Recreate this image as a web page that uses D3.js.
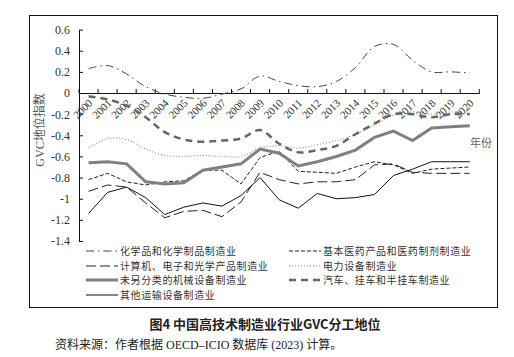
<!DOCTYPE html>
<html><head><meta charset="utf-8">
<script src="https://cdn.jsdelivr.net/npm/d3@7"></script>
<style>body{margin:0;background:#fff}svg{display:block}</style>
</head><body>
<svg id="c" width="514" height="357"></svg>
<script>
const years = ["2000","2001","2002","2003","2004","2005","2006","2007","2008","2009","2010","2011","2012","2013","2014","2015","2016","2017","2018","2019","2020"];
const chem      = [0.23,0.26,0.18,0.06,-0.01,-0.04,-0.05,-0.01,0.04,0.16,0.11,0.07,0.06,0.11,0.24,0.44,0.46,0.31,0.20,0.20,0.19];
const pharma    = [-0.82,-0.76,-0.84,-0.87,-0.84,-0.83,-0.73,-0.73,-0.86,-0.61,-0.55,-0.74,-0.75,-0.76,-0.70,-0.65,-0.68,-0.76,-0.72,-0.71,-0.70];
const computer  = [-0.93,-0.87,-0.89,-1.04,-1.18,-1.12,-1.11,-1.17,-1.03,-0.75,-0.82,-0.86,-0.84,-0.84,-0.82,-0.68,-0.67,-0.75,-0.76,-0.76,-0.76];
const power     = [-0.52,-0.43,-0.44,-0.53,-0.59,-0.60,-0.59,-0.60,-0.60,-0.52,-0.50,-0.52,-0.49,-0.45,-0.39,-0.30,-0.21,-0.18,-0.20,-0.18,-0.18];
const machinery = [-0.66,-0.65,-0.67,-0.84,-0.86,-0.85,-0.73,-0.70,-0.67,-0.53,-0.57,-0.69,-0.65,-0.60,-0.54,-0.42,-0.36,-0.45,-0.33,-0.32,-0.31];
const auto      = [-0.03,-0.06,-0.12,-0.23,-0.37,-0.44,-0.46,-0.45,-0.43,-0.35,-0.48,-0.56,-0.54,-0.50,-0.39,-0.29,-0.20,-0.20,-0.23,-0.20,-0.20];
const other     = [-1.14,-0.94,-0.89,-0.99,-1.15,-1.08,-1.04,-1.07,-0.97,-0.80,-1.01,-1.09,-0.95,-1.00,-0.99,-0.96,-0.78,-0.72,-0.65,-0.65,-0.65];
const yTicks = [0.6,0.4,0.2,0,-0.2,-0.4,-0.6,-0.8,-1,-1.2,-1.4];
const seriesNames = ["化学品和化学制品制造业","基本医药产品和医药制剂制造业","计算机、电子和光学产品制造业","电力设备制造业","未另分类的机械设备制造业","汽车、挂车和半挂车制造业","其他运输设备制造业"];
const title = "图4  中国高技术制造业行业GVC分工地位";
const source = "资料来源：作者根据 OECD–ICIO 数据库 (2023) 计算。";
const yTitle = "GVC地位指数";
const xTitle = "年份";

const svg = d3.select("#c");
svg.append("rect").attr("x",29.5).attr("y",15.5).attr("width",468).attr("height",292)
  .attr("fill","#fff").attr("stroke","#111").attr("stroke-width",1);

const x = d3.scaleBand().domain(years).range([79,479.3]).padding(0);
const y = d3.scaleLinear().domain([-1.4,0.6]).range([241,29.6]);
const bw = x.bandwidth();
const serif = "'Liberation Serif','Noto Sans CJK SC',serif";
const cjk = "'Noto Sans CJK SC',sans-serif";

// y axis
const ya = svg.append("g").attr("transform","translate(79,0)")
  .call(d3.axisLeft(y).tickValues(yTicks).tickFormat(v=>String(+v.toFixed(1))).tickSizeInner(-4).tickSizeOuter(0).tickPadding(9));
ya.selectAll("path,line").attr("stroke","#111");
ya.selectAll("text").attr("font-family",serif).attr("font-size",12).attr("fill","#333");

// x axis
const xa = svg.append("g").attr("transform",`translate(0,${y(0)})`)
  .call(d3.axisBottom(x).tickSize(0).tickSizeOuter(0));
xa.select("path").attr("stroke","#111");
xa.selectAll(".tick text")
  .attr("font-family",serif).attr("font-size",11).attr("fill","#333")
  .attr("text-anchor","end").attr("transform","translate(2,8) rotate(-45)").attr("dy","0.35em").attr("y",0).attr("x",0);
const edges = years.map(d=>x(d)).concat([x.range()[1]]);
xa.selectAll(".edge").data(edges).join("line").attr("class","edge")
  .attr("x1",d=>d).attr("x2",d=>d).attr("y1",0).attr("y2",-4).attr("stroke","#111");

// titles
svg.append("text").attr("transform","translate(44,130) rotate(-90)").attr("text-anchor","middle")
  .attr("font-family",serif).attr("font-size",12).attr("fill","#555").text(yTitle);
svg.append("text").attr("x",470).attr("y",147).attr("font-family",cjk).attr("font-size",11).attr("fill","#666").text(xTitle);

const styles = [
  {data:chem, color:"#444", w:1, dash:"8,4,1.5,4", curve:d3.curveCatmullRom},
  {data:pharma, color:"#222", w:1, dash:"4,2", curve:d3.curveLinear},
  {data:computer, color:"#222", w:1, dash:"10,4", curve:d3.curveLinear},
  {data:power, color:"#888", w:1.1, dash:"1,2", curve:d3.curveCatmullRom},
  {data:machinery, color:"#808080", w:3, dash:null, curve:d3.curveLinear},
  {data:auto, color:"#666", w:2.5, dash:"7,5", curve:d3.curveCatmullRom},
  {data:other, color:"#111", w:1, dash:null, curve:d3.curveLinear}
];
const drawOrder = [3,0,1,2,6,5,4];
drawOrder.forEach(i=>{
  const s = styles[i];
  const line = d3.line().x((d,j)=>x(years[j])+bw/2).y(d=>y(d)).curve(s.curve);
  svg.append("path").attr("d",line(s.data)).attr("fill","none")
    .attr("stroke",s.color).attr("stroke-width",s.w).attr("stroke-dasharray",s.dash);
});

// legend
const legPos = [[86,251],[289,251],[86,266],[289,266],[86,280],[289,280],[86,295]];
seriesNames.forEach((n,i)=>{
  const [lx,ly] = legPos[i]; const s = styles[i];
  svg.append("line").attr("x1",lx).attr("x2",lx+32).attr("y1",ly).attr("y2",ly)
    .attr("stroke",s.color).attr("stroke-width",s.w).attr("stroke-dasharray",s.dash);
  svg.append("text").attr("x",lx+34).attr("y",ly+3.5).attr("font-family",cjk).attr("font-size",10)
    .attr("letter-spacing","0.6px").attr("fill","#333").text(n);
});

svg.append("text").attr("x",265).attr("y",329).attr("text-anchor","middle").attr("font-family",cjk)
  .attr("font-size",13).attr("font-weight","bold").attr("fill","#222").text(title);
svg.append("text").attr("x",55).attr("y",349).attr("font-family",serif).attr("font-size",12)
  .attr("fill","#222").text(source);
</script>
</body></html>
